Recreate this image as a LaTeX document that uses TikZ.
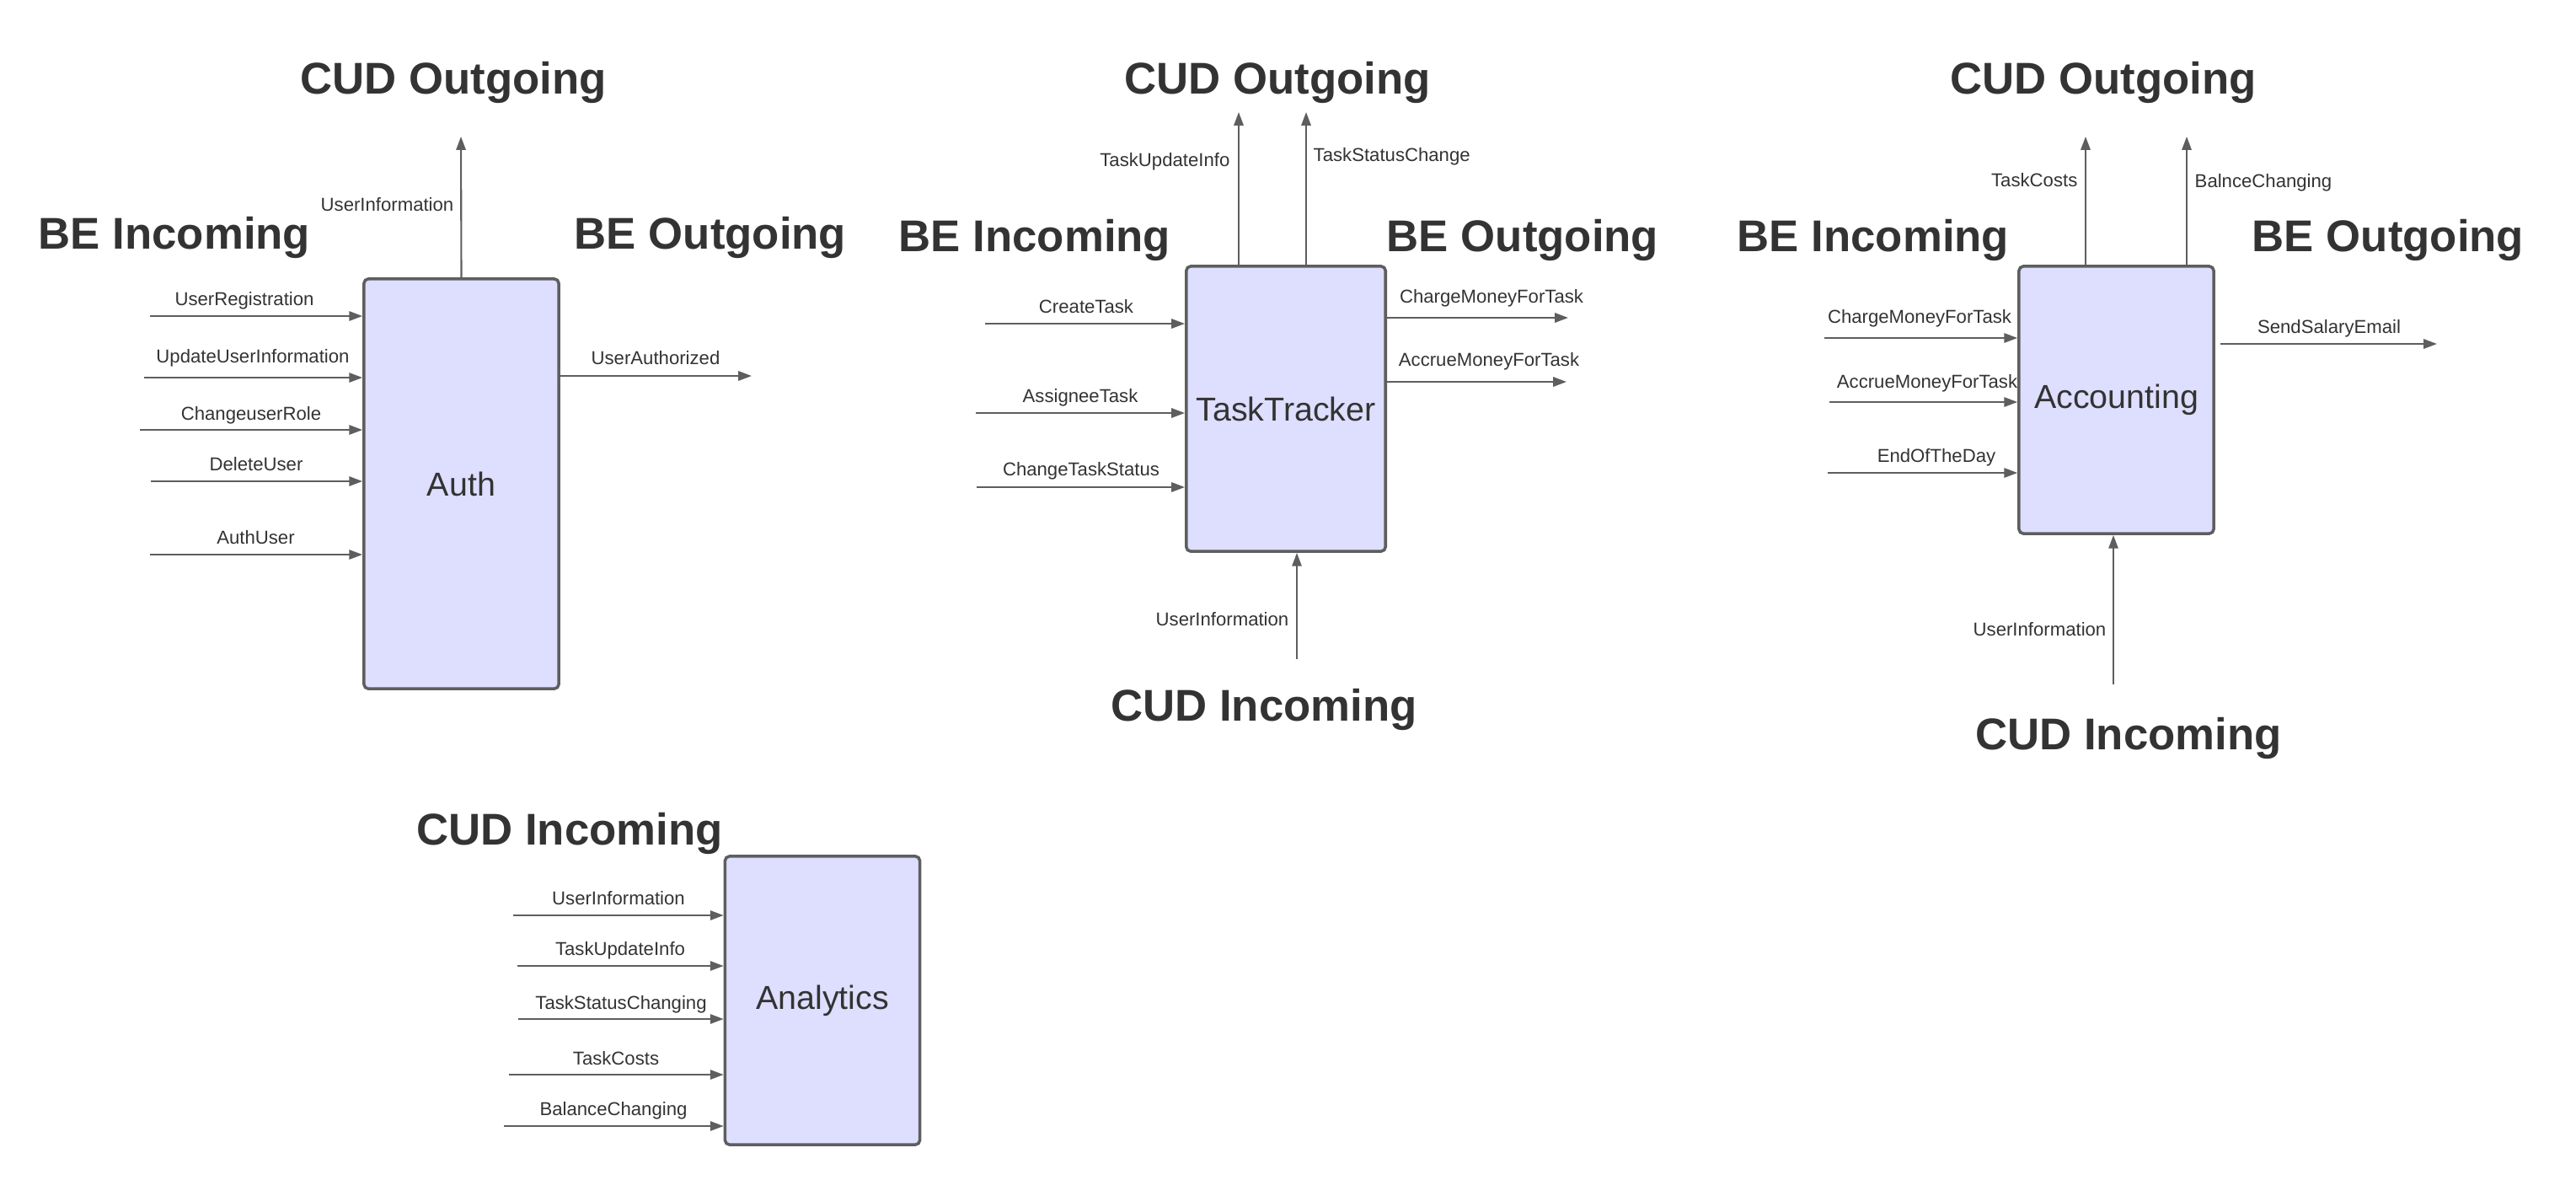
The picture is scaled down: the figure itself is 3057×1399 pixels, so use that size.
\documentclass[tikz,border=0pt]{standalone}
\usepackage{fontspec}
\setmainfont{Liberation Sans}
\usetikzlibrary{arrows.meta}
\definecolor{lavender}{HTML}{DEDEFF}
\definecolor{edgegray}{HTML}{5E5E5E}
\definecolor{ink}{HTML}{333333}

\begin{document}
\begin{tikzpicture}[
    x=0.01cm, y=-0.01cm,
    every node/.style={text=ink},
    service/.style={rectangle, draw=edgegray, fill=lavender, line width=1pt, rounded corners=1.5pt, minimum width=2.31cm, font=\fontsize{11.2}{13}\selectfont},
    heading/.style={anchor=base, font=\fontsize{15}{18}\selectfont\bfseries},
    msg/.style={anchor=base, inner sep=0pt, font=\fontsize{6.3}{7.5}\selectfont},
    flow/.style={draw=edgegray, line width=0.6pt, -{Triangle[length=4.5pt, width=3.2pt]}}
]
\useasboundingbox (0,0) rectangle (3057,1399);

% Auth
\node[service, minimum height=4.86cm] (auth) at (547.5,574) {Auth};
\node[heading] (auth-cudout) at (538,111) {CUD Outgoing};
\node[heading] (auth-bein) at (207,295) {BE Incoming};
\node[heading] (auth-beout) at (843,295) {BE Outgoing};

\draw[flow] (auth.north) -- (547,162) coordinate (auth-up);
\node[msg, anchor=base east] (auth-up-l) at (539,250) {UserInformation};

\draw[flow] (178,375) coordinate (reg) -- (reg -| auth.west);
\node[msg] (reg-l) at (290,362) {UserRegistration};
\draw[flow] (171,448) coordinate (upd) -- (upd -| auth.west);
\node[msg] (upd-l) at (300,430) {UpdateUserInformation};
\draw[flow] (166,510) coordinate (role) -- (role -| auth.west);
\node[msg] (role-l) at (298,498) {ChangeuserRole};
\draw[flow] (179,571) coordinate (del) -- (del -| auth.west);
\node[msg] (del-l) at (304,558) {DeleteUser};
\draw[flow] (178,658) coordinate (login) -- (login -| auth.west);
\node[msg] (login-l) at (303.5,645) {AuthUser};

\draw[flow] (auth.east |- 0,446) -- (892,446) coordinate (authd);
\node[msg] (authd-l) at (778,432) {UserAuthorized};

% TaskTracker
\node[service, minimum height=3.38cm] (tracker) at (1526,485) {TaskTracker};
\node[heading] (tt-cudout) at (1516,111) {CUD Outgoing};
\node[heading] (tt-bein) at (1228,298) {BE Incoming};
\node[heading] (tt-beout) at (1807,298) {BE Outgoing};
\node[heading] (tt-cudin) at (1500,855) {CUD Incoming};

\coordinate (tt-info) at (1470,133);
\draw[flow] (tracker.north -| tt-info) -- (tt-info);
\node[msg, anchor=base east] (tt-info-l) at (1460,197) {TaskUpdateInfo};
\coordinate (tt-status) at (1550,133);
\draw[flow] (tracker.north -| tt-status) -- (tt-status);
\node[msg, anchor=base west] (tt-status-l) at (1558,191) {TaskStatusChange};

\draw[flow] (1169,384) coordinate (create) -- (create -| tracker.west);
\node[msg] (create-l) at (1289,371) {CreateTask};
\draw[flow] (1158,490) coordinate (assign) -- (assign -| tracker.west);
\node[msg] (assign-l) at (1282,477) {AssigneeTask};
\draw[flow] (1159,578) coordinate (chstatus) -- (chstatus -| tracker.west);
\node[msg] (chstatus-l) at (1283,564) {ChangeTaskStatus};

\draw[flow] (tracker.east |- 0,377) -- (1861,377) coordinate (charge);
\node[msg] (charge-l) at (1770,359) {ChargeMoneyForTask};
\draw[flow] (tracker.east |- 0,453) -- (1859,453) coordinate (accrue);
\node[msg] (accrue-l) at (1767,434) {AccrueMoneyForTask};

\draw[flow] (1539,782) coordinate (tt-user) -- (tt-user |- tracker.south);
\node[msg, anchor=base east] (tt-user-l) at (1530,742) {UserInformation};

% Accounting
\node[service, minimum height=3.17cm] (accounting) at (2511.5,474.5) {Accounting};
\node[heading] (acc-cudout) at (2496,111) {CUD Outgoing};
\node[heading] (acc-bein) at (2223,298) {BE Incoming};
\node[heading] (acc-beout) at (2834,298) {BE Outgoing};
\node[heading] (acc-cudin) at (2526,889) {CUD Incoming};

\coordinate (acc-costs) at (2475,162);
\draw[flow] (accounting.north -| acc-costs) -- (acc-costs);
\node[msg, anchor=base east] (acc-costs-l) at (2466,221) {TaskCosts};
\coordinate (acc-balance) at (2595,162);
\draw[flow] (accounting.north -| acc-balance) -- (acc-balance);
\node[msg, anchor=base west] (acc-balance-l) at (2604,222) {BalnceChanging};

\draw[flow] (2165,401) coordinate (acc-charge) -- (acc-charge -| accounting.west);
\node[msg] (acc-charge-l) at (2278,383) {ChargeMoneyForTask};
\draw[flow] (2171,477) coordinate (acc-accrue) -- (acc-accrue -| accounting.west);
\node[msg] (acc-accrue-l) at (2287,460) {AccrueMoneyForTask};
\draw[flow] (2169,561) coordinate (dayend) -- (dayend -| accounting.west);
\node[msg] (dayend-l) at (2298,548) {EndOfTheDay};

\draw[flow] (2635,408) coordinate (mail-s) -- (2892,408) coordinate (mail);
\node[msg] (mail-l) at (2764,395) {SendSalaryEmail};

\draw[flow] (2508,812) coordinate (acc-user) -- (acc-user |- accounting.south);
\node[msg, anchor=base east] (acc-user-l) at (2500,754) {UserInformation};

% Analytics
\node[service, minimum height=3.42cm] (analytics) at (976,1187) {Analytics};
\node[heading] (an-cudin) at (676,1002) {CUD Incoming};

\draw[flow] (609,1086) coordinate (an-user) -- (an-user -| analytics.west);
\node[msg] (an-user-l) at (734,1073) {UserInformation};
\draw[flow] (614,1146) coordinate (an-info) -- (an-info -| analytics.west);
\node[msg] (an-info-l) at (736,1133) {TaskUpdateInfo};
\draw[flow] (615,1209) coordinate (an-status) -- (an-status -| analytics.west);
\node[msg] (an-status-l) at (737,1197) {TaskStatusChanging};
\draw[flow] (604,1275) coordinate (an-costs) -- (an-costs -| analytics.west);
\node[msg] (an-costs-l) at (731,1263) {TaskCosts};
\draw[flow] (598,1336) coordinate (an-balance) -- (an-balance -| analytics.west);
\node[msg] (an-balance-l) at (728,1323) {BalanceChanging};

\end{tikzpicture}
\end{document}
